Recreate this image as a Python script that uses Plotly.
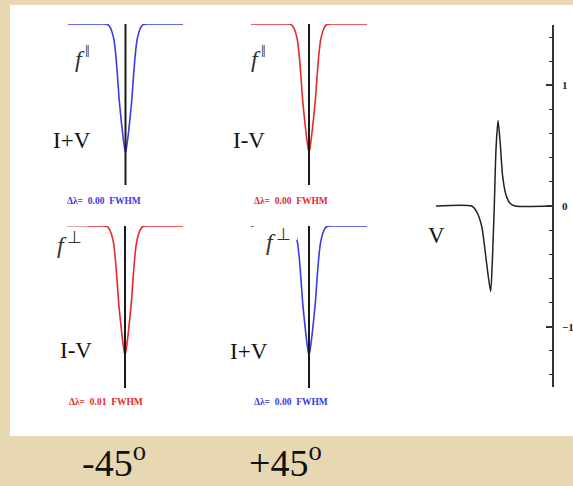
import numpy as np
import plotly.graph_objects as go

W, H = 573, 486

# Wavelength offset from the line centre (each panel spans -1 .. 1)
wave = [-1.0, -0.65, -0.40, -0.30, -0.26, -0.23, -0.20, -0.17, -0.14, -0.11, -0.08, -0.05, -0.025, 0.0,
        0.025, 0.05, 0.08, 0.11, 0.14, 0.17, 0.20, 0.23, 0.26, 0.30, 0.40, 0.65, 1.0]
# Normalised intensity of the absorption profile
intensity = [1.0, 1.0, 1.0, 0.995, 0.975, 0.945, 0.90, 0.81, 0.68, 0.53, 0.42, 0.32, 0.25, 0.20,
             0.25, 0.32, 0.42, 0.53, 0.68, 0.81, 0.90, 0.945, 0.975, 0.995, 1.0, 1.0, 1.0]

# Stokes V profile
v_wave = [-1.0, -0.385, -0.30, -0.21, -0.155, -0.098, -0.057, -0.028, 0.005, 0.034, 0.069,
          0.103, 0.15, 0.207, 0.276, 0.362, 1.0]
v_stokes = [0.0, 0.0, -0.047, -0.172, -0.365, -0.587, -0.71, -0.448, 0.0, 0.465, 0.708,
            0.548, 0.243, 0.091, 0.022, 0.0, 0.0]

# Per-panel annotations
combo = ["I+V", "I-V", "I-V", "I+V"]
fpol = ["\u2016", "\u2016", "\u22a5", "\u22a5"]
shift = [0.00, 0.00, 0.01, 0.00]
angles = ["-45", "+45"]
v_ticks = [-1, 0, 1]

BLUE = "#3a3ae6"
RED = "#e62a2a"
BG = "#e7d7b3"
SERIF = "Liberation Serif"


def px(x):
    return x / W


def py(y):
    return 1 - y / H


# panel boxes in pixels: (left, right, top(I=1), bottom(I=0))
boxes = [(68, 183, 24, 185), (251, 367, 24, 185), (67, 183, 226, 388), (251, 367, 226, 388)]
colors = [BLUE, RED, RED, BLUE]

fig = go.Figure()
layout = dict(
    width=W, height=H, margin=dict(l=0, r=0, t=0, b=0),
    paper_bgcolor=BG, plot_bgcolor="rgba(0,0,0,0)", showlegend=False,
)

w = np.array(wave)
inten = np.array(intensity)
for i, (l, r, t, b) in enumerate(boxes):
    n = i + 1
    xa, ya = ("x", "y") if n == 1 else (f"x{n}", f"y{n}")
    fig.add_trace(go.Scatter(x=wave, y=intensity, mode="lines", xaxis=xa, yaxis=ya,
                             line=dict(color=colors[i], width=1.6, shape="spline", smoothing=0.7),
                             cliponaxis=False, hoverinfo="skip"))
    if i == 2:
        m = w <= -0.65
        fig.add_trace(go.Scatter(x=w[m], y=inten[m], mode="lines", xaxis=xa, yaxis=ya,
                                 line=dict(color="#f6b3b3", width=1.6),
                                 cliponaxis=False, hoverinfo="skip"))
    fig.add_trace(go.Scatter(x=[0, 0], y=[0, 1], mode="lines", xaxis=xa, yaxis=ya,
                             line=dict(color="#1a1a1a", width=2),
                             cliponaxis=False, hoverinfo="skip"))
    layout["xaxis" if n == 1 else f"xaxis{n}"] = dict(
        domain=[px(l), px(r)], range=[-1, 1], visible=False, anchor=ya)
    layout["yaxis" if n == 1 else f"yaxis{n}"] = dict(
        domain=[py(b), py(t)], range=[0, 1], visible=False, anchor=xa)

# Stokes V panel
fig.add_trace(go.Scatter(x=v_wave, y=v_stokes, mode="lines", xaxis="x5", yaxis="y5",
                         line=dict(color="#222", width=1.5, shape="spline", smoothing=0.6),
                         cliponaxis=False, hoverinfo="skip"))
layout["xaxis5"] = dict(domain=[px(436), px(552)], range=[-1, 1], visible=False, anchor="y5")
layout["yaxis5"] = dict(
    domain=[py(387), py(25)], range=[-1.5, 1.5], anchor="x5", side="right",
    showline=True, linecolor="#333", linewidth=1.5, showgrid=False, zeroline=False,
    ticks="inside", ticklen=6, tickwidth=1.5, tickcolor="#333",
    tickvals=v_ticks, ticktext=[("\u2212" + str(abs(v))) if v < 0 else str(v) for v in v_ticks],
    tickfont=dict(family=SERIF, size=11, color="#222", weight="bold"),
    ticklabelstandoff=6,
    minor=dict(dtick=0.2, tick0=0, ticks="inside", ticklen=3, tickwidth=1, tickcolor="#333"),
)

shapes = [
    dict(type="rect", xref="paper", yref="paper", x0=px(10), x1=1.01, y0=py(436), y1=py(5),
         fillcolor="white", line=dict(width=0), layer="below"),
    dict(type="rect", xref="paper", yref="paper", x0=px(254), x1=px(297), y0=py(240), y1=py(218),
         fillcolor="white", line=dict(width=0), layer="above"),
]

annotations = []


def label(x, y, text, size, color="#111", family=SERIF, weight="normal"):
    annotations.append(dict(xref="paper", yref="paper", x=px(x), y=py(y), text=text,
                            showarrow=False, xanchor="center", yanchor="middle",
                            font=dict(family=family, size=size, color=color, weight=weight)))


combo_pos = [(72, 140), (249, 140), (76, 350), (249, 351)]
f_pos = [(82, 57), (258, 57), (69, 243), (278, 240)]
dl_pos = [(104, 201), (291, 201), (106, 402), (291, 402)]
for i in range(4):
    label(*combo_pos[i], combo[i], 23)
    label(*f_pos[i], f"<i>f</i><sup>\u2009{fpol[i]}</sup>", 24, color="#333")
    label(*dl_pos[i], f"\u0394\u03bb=\u00a0\u00a0{shift[i]:.2f}\u00a0\u00a0FWHM", 9.5,
          color=colors[i], weight="bold")

label(436, 235, "V", 23)
label(114, 460, f"{angles[0]}<sup>o</sup>", 38)
label(285, 460, f"{angles[1]}<sup>o</sup>", 38)

layout["shapes"] = shapes
layout["annotations"] = annotations
fig.update_layout(**layout)
fig.write_html("out.html")
